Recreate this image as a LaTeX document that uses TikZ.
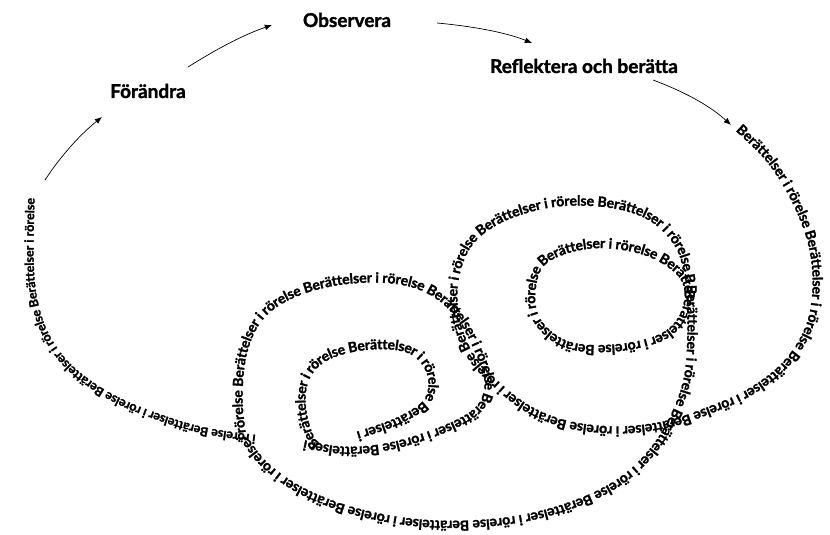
\documentclass[tikz,border=0pt]{standalone}
\usepackage{fontspec}
\setmainfont{Lato}[BoldFeatures={FakeBold=1.5}]
\newfontfamily\spfont{Lato}[BoldFeatures={FakeBold=1.5}]
\newcommand\spf{\spfont\bfseries\fontsize{7pt}{7pt}\selectfont}
\newcommand\spg{\spfont\bfseries\fontsize{6.25pt}{6.25pt}\selectfont}
\usetikzlibrary{decorations.text,arrows.meta,calc}
\begin{document}
\begin{tikzpicture}[x=0.5pt,y=-0.5pt,
  spiral/.style={decorate,decoration={text along path,raise=-1.8pt}},
  lab/.style={font=\bfseries\fontsize{9.5pt}{10pt}\selectfont,inner sep=0pt},
  flow/.style={line width=0.35pt,-{Latex[length=3.6pt,width=2.9pt]}}]
\fill[white] (0,0) rectangle (830,535);
\useasboundingbox (0,0) rectangle (830,535);
% labels
\node[lab] (obs) at (347,20) {Observera};
\node[lab] (for) at (148,91) {Förändra};
\node[lab] (ref) at (584,66) {Reflektera och berätta};
% arrow ends
\coordinate (a1s) at (45,180);
\coordinate (a1e) at (102,117);
\coordinate (a2s) at (188,67);
\coordinate (a2e) at (272,25);
\coordinate (a3s) at (437,23);
\coordinate (a3e) at (532,43);
\coordinate (a4s) at (653,80);
\coordinate (a4e) at (731,125);
\draw[flow] (a1s) .. controls (62,154) and (82,133) .. (a1e);
\draw[flow] (a2s) .. controls (212,52) and (240,36) .. (a2e);
\draw[flow] (a3s) .. controls (470,26) and (505,32) .. (a3e);
\draw[flow] (a4s) .. controls (680,90) and (708,104) .. (a4e);
% ---- support points
\foreach \x/\y [count=\k] in {738/128, 770/160, 795/200, 812/245, 816/290, 808/330, 785/365, 750/392, 710/410, 668/424, 620/430, 570/425, 530/410, 497/385, 470/355, 456/318, 455/280, 468/245, 495/222, 535/207, 575/202, 620/206, 655/220, 680/248, 690/285} {\coordinate (sa-\k) at (\x,\y);}
\coordinate (sa-0) at (sa-1); \coordinate (sa-26) at (sa-25);
\foreach \x/\y [count=\k] in {690/285, 691/330, 688/375, 676/412, 655/448, 625/478, 585/500, 530/517, 470/524, 410/522, 350/510, 300/490, 265/465, 245/440} {\coordinate (sb-\k) at (\x,\y);}
\coordinate (sb-0) at (sb-1); \coordinate (sb-15) at (sb-14);
\foreach \x/\y [count=\k] in {243/440, 239/400, 243/355, 258/320, 285/298, 325/284, 370/279, 410/283, 440/297, 462/320, 478/350, 488/380, 482/405, 460/422, 420/438, 380/448, 340/450, 300/443} {\coordinate (sc-\k) at (\x,\y);}
\coordinate (sc-0) at (sc-1); \coordinate (sc-19) at (sc-18);
\foreach \x/\y [count=\k] in {300/443, 243/437, 200/430, 160/418, 120/402, 88/383, 62/360, 43/330, 33/295, 30/255, 31/198} {\coordinate (sd-\k) at (\x,\y);}
\coordinate (sd-0) at (sd-1); \coordinate (sd-12) at (sd-11);
\foreach \x/\y [count=\k] in {318/446, 303/412, 306/378, 328/356, 370/346, 410/350, 430/372, 428/400, 400/420, 355/436} {\coordinate (il-\k) at (\x,\y);}
\coordinate (il-0) at (il-10); \coordinate (il-11) at (il-1); \coordinate (il-12) at (il-2);
\foreach \x/\y [count=\k] in {688/290, 682/318, 660/338, 615/348, 568/345, 538/322, 532/290, 545/260, 590/245, 640/250, 675/268} {\coordinate (ir-\k) at (\x,\y);}
\coordinate (ir-0) at (ir-11); \coordinate (ir-12) at (ir-1); \coordinate (ir-13) at (ir-2);
% ---- spiral texts
\path[spiral,decoration={text={|\spf|Berättelser i rörelse Berättelser i rörelse Berättelser i rörelse Berättelser i rörelse Berättelser i rörelse Berättelser i rörelse Berättelser i rörelse Berättelser i rörelse Berättelser i rörelse Berättelser i rörelse}}]
 (sa-1) \foreach \i [evaluate=\i as \a using int(\i-2), evaluate=\i as \b using int(\i-1), evaluate=\i as \c using int(\i+1)] in {2,...,25} { .. controls ($(sa-\b)+1/6*(sa-\i)-1/6*(sa-\a)$) and ($(sa-\i)-1/6*(sa-\c)+1/6*(sa-\b)$) .. (sa-\i) };
\path[spiral,decoration={text={|\spf|Berättelser i rörelse Berättelser i rörelse Berättelser i rörelse Berättelser i rörelse Berättelser i rörelse Berättelser i rörelse}}]
 (sb-1) \foreach \i [evaluate=\i as \a using int(\i-2), evaluate=\i as \b using int(\i-1), evaluate=\i as \c using int(\i+1)] in {2,...,14} { .. controls ($(sb-\b)+1/6*(sb-\i)-1/6*(sb-\a)$) and ($(sb-\i)-1/6*(sb-\c)+1/6*(sb-\b)$) .. (sb-\i) };
\path[spiral,decoration={text={|\spf|i rörelse Berättelser i rörelse Berättelser i rörelse Berättelser i rörelse Berättelser i rörelse Berättelser i rörelse Berättelser i rörelse}}]
 (sc-1) \foreach \i [evaluate=\i as \a using int(\i-2), evaluate=\i as \b using int(\i-1), evaluate=\i as \c using int(\i+1)] in {2,...,18} { .. controls ($(sc-\b)+1/6*(sc-\i)-1/6*(sc-\a)$) and ($(sc-\i)-1/6*(sc-\c)+1/6*(sc-\b)$) .. (sc-\i) };
\path[spiral,decoration={text align=right,text={|\spg|i rörelse Berättelser i rörelse Berättelser i rörelse Berättelser i rörelse}}]
 (sd-1) \foreach \i [evaluate=\i as \a using int(\i-2), evaluate=\i as \b using int(\i-1), evaluate=\i as \c using int(\i+1)] in {2,...,11} { .. controls ($(sd-\b)+1/6*(sd-\i)-1/6*(sd-\a)$) and ($(sd-\i)-1/6*(sd-\c)+1/6*(sd-\b)$) .. (sd-\i) };
\path[spiral,decoration={text={|\spf|Berättelser i rörelse Berättelser i rörelse Berättelser i}}]
 (il-1) \foreach \i [evaluate=\i as \a using int(\i-2), evaluate=\i as \b using int(\i-1), evaluate=\i as \c using int(\i+1)] in {2,...,11} { .. controls ($(il-\b)+1/6*(il-\i)-1/6*(il-\a)$) and ($(il-\i)-1/6*(il-\c)+1/6*(il-\b)$) .. (il-\i) };
\path[spiral,decoration={text={|\spf|Berättelser i rörelse Berättelser i rörelse Berättelser i rörelse Berättelser i rörelse}}]
 (ir-1) \foreach \i [evaluate=\i as \a using int(\i-2), evaluate=\i as \b using int(\i-1), evaluate=\i as \c using int(\i+1)] in {2,...,12} { .. controls ($(ir-\b)+1/6*(ir-\i)-1/6*(ir-\a)$) and ($(ir-\i)-1/6*(ir-\c)+1/6*(ir-\b)$) .. (ir-\i) };
\end{tikzpicture}
\end{document}
